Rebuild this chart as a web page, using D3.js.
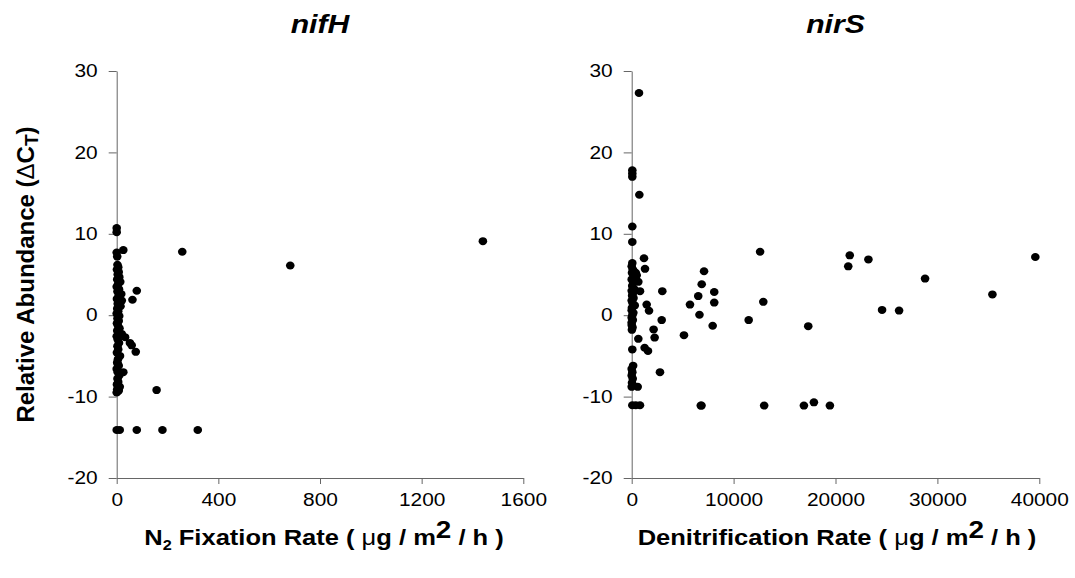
<!DOCTYPE html>
<html>
<head>
<meta charset="utf-8">
<script src="https://cdn.jsdelivr.net/npm/d3@7/dist/d3.min.js"></script>
<style>
  body { margin: 0; background: #fff; }
  text { font-family: Arial, "Liberation Sans", sans-serif; }
</style>
</head>
<body>
<div id="chart"></div>
<script>
// nifH panel: [N2 fixation rate, relative abundance]
var nifPoints = [
    [1441, 9.1], [683, 6.1], [258, 7.8], [26, 8.0], [79, 3.0], [62, 1.9], [20, 1.8],
    [20, -2.3], [33, -2.7], [52, -3.4], [59, -3.7], [75, -4.5], [26, -7.0], [157, -9.2],
    [0, -14.1], [12, -14.1], [79, -14.1], [180, -14.1], [319, -14.1],
    [0, 10.7], [0, 10.2], [0, 7.7], [2, 7.2],
    [3, 6.2], [6, 5.9], [1, 5.6], [8, 5.3], [4, 5.0], [10, 4.7], [2, 4.4], [14, 4.1], [5, 3.8],
    [0, 3.5], [9, 3.2], [3, 2.9], [18, 2.6], [7, 2.3], [1, 2.0], [12, 1.7], [4, 1.4], [15, 1.1],
    [2, 0.8], [6, 0.5], [0, 0.2], [10, -0.1], [3, -0.4], [8, -0.7], [1, -1.0], [5, -1.3],
    [11, -1.6], [2, -1.9], [7, -2.2], [0, -2.6], [4, -3.0], [9, -3.4], [3, -3.8], [6, -4.2],
    [1, -4.6], [13, -5.0], [5, -5.4], [2, -5.8], [8, -6.2], [0, -6.6], [4, -7.0], [10, -7.4],
    [3, -7.8], [6, -8.2], [1, -8.5], [12, -8.8], [2, -9.1], [7, -9.3], [0, -9.5], [9, 4.6],
    [4, -6.0], [8, -9.2]
];

// nirS panel: [denitrification rate, relative abundance]
var nirPoints = [
    [716, 27.3], [60, 17.8], [60, 17.4], [60, 17.0], [750, 14.8], [60, 10.9], [60, 9.0],
    [1207, 7.0], [1305, 5.7], [12600, 7.8], [60, 6.4], [157, 5.5], [490, 4.9], [650, 4.1],
    [400, 5.2], [300, 4.5], [814, 2.95], [3003, 2.95], [7100, 5.4], [6870, 3.8], [8100, 2.85],
    [6530, 2.35], [8100, 1.55], [5720, 1.3], [1470, 1.3], [1700, 0.55], [6650, 0.05],
    [11480, -0.6], [2943, -0.6], [7946, -1.3], [2150, -1.75], [2250, -2.75], [5130, -2.45],
    [650, -2.9], [60, -4.2], [1270, -4.0], [1600, -4.4], [2776, -7.0], [589, -8.8],
    [60, -11.06], [400, -11.06], [814, -11.06], [6780, -11.1], [6850, -11.1], [13000, -11.1],
    [12915, 1.64], [21400, 7.35], [21250, 6.0], [23230, 6.85], [28790, 4.5], [35400, 2.55],
    [39610, 7.15], [24570, 0.65], [26240, 0.57], [17325, -1.35], [16900, -11.1],
    [17880, -10.7], [19450, -11.1],
    [0, 6.0], [100, 5.6], [30, 5.2], [200, 4.8], [0, 4.4], [150, 4.0], [50, 3.6], [250, 3.2],
    [0, 3.0], [120, 2.7], [40, 2.4], [180, 2.1], [0, 1.8], [90, 1.5], [300, 1.2], [20, 0.9],
    [0, 0.6], [160, 0.3], [60, 0.0], [0, -0.3], [110, -0.6], [0, -0.9], [0, -1.2], [80, -1.5],
    [20, -1.8], [140, -6.2], [0, -6.6], [60, -7.0], [0, -7.4], [100, -7.8], [30, -8.3], [0, -8.8]
];

var yTicks = [-20, -10, 0, 10, 20, 30];
var nifXTicks = [0, 400, 800, 1200, 1600];
var nirXTicks = [0, 10000, 20000, 30000, 40000];

var width = 1075, height = 578;
var svg = d3.select("#chart").append("svg")
    .attr("width", width)
    .attr("height", height);

var axisColor = "#666666";
var stretch = 1.16; // the original picture is a bit wider than tall
var top_ = 71, bottom = 478;

function panel(points, xTicks, left, right, title) {
    var x = d3.scaleLinear().domain([xTicks[0], xTicks[xTicks.length - 1]]).range([left, right]);
    var y = d3.scaleLinear().domain([-20, 30]).range([bottom, top_]);

    var gy = svg.append("g")
        .attr("transform", "translate(" + left + ",0)")
        .call(d3.axisLeft(y).tickValues(yTicks).tickSize(8).tickSizeOuter(0).tickPadding(11)
            .tickFormat(function (d) { return String(d); }));
    var gx = svg.append("g")
        .attr("transform", "translate(0," + bottom + ")")
        .call(d3.axisBottom(x).tickValues(xTicks).tickSize(6).tickSizeOuter(0).tickPadding(9)
            .tickFormat(function (d) { return String(d); }));

    [gx, gy].forEach(function (g) {
        g.select(".domain").attr("stroke", axisColor);
        g.selectAll(".tick line").attr("stroke", axisColor);
        g.selectAll(".tick text")
            .attr("fill", "#000")
            .attr("font-size", "18px")
            .attr("font-family", "Arial, 'Liberation Sans', sans-serif")
            .attr("x", function () { return +d3.select(this).attr("x") / stretch; })
            .attr("transform", "scale(" + stretch + ",1)");
    });

    svg.append("g").selectAll("ellipse")
        .data(points)
        .enter()
        .append("ellipse")
        .attr("cx", function (d) { return x(d[0]); })
        .attr("cy", function (d) { return y(d[1]); })
        .attr("rx", 4.3)
        .attr("ry", 4)
        .attr("fill", "#000");

    svg.append("text")
        .attr("transform", "translate(" + ((left + right) / 2) + ",33) scale(" + stretch + ",1)")
        .attr("text-anchor", "middle")
        .attr("font-size", "26px")
        .attr("font-weight", "bold")
        .attr("font-style", "italic")
        .text(title);
    return x;
}

panel(nifPoints, nifXTicks, 116.7, 523.3, "nifH");
panel(nirPoints, nirXTicks, 631.7, 1039.3, "nirS");

// y axis label
var yl = svg.append("text")
    .attr("transform", "translate(34," + ((top_ + bottom) / 2) + ") rotate(-90)")
    .attr("text-anchor", "middle")
    .attr("font-size", "24px")
    .attr("font-weight", "bold");
yl.append("tspan").text("Relative Abundance (");
yl.append("tspan").attr("font-weight", "normal").text("\u0394");
yl.append("tspan").text("C");
yl.append("tspan").attr("font-size", "19px").attr("dy", 4).text("T");
yl.append("tspan").attr("dy", -4).text(")");

// x axis labels
function xLabel(cx, pre) {
    var t = svg.append("text")
        .attr("transform", "translate(" + cx + ",545) scale(" + stretch + ",1)")
        .attr("text-anchor", "middle")
        .attr("font-size", "22px")
        .attr("font-weight", "bold");
    pre(t);
    t.append("tspan").text(" Rate ( ");
    t.append("tspan").attr("font-weight", "normal").text("\u03bc");
    t.append("tspan").text("g / m");
    t.append("tspan").attr("font-size", "24px").attr("dy", -7).text("2");
    t.append("tspan").attr("dy", 7).text(" / h )");
}
xLabel(324, function (t) {
    t.append("tspan").text("N");
    t.append("tspan").attr("font-size", "14px").attr("dy", 5).text("2");
    t.append("tspan").attr("dy", -5).text(" Fixation");
});
xLabel(837, function (t) {
    t.append("tspan").text("Denitrification");
});
</script>
</body>
</html>
